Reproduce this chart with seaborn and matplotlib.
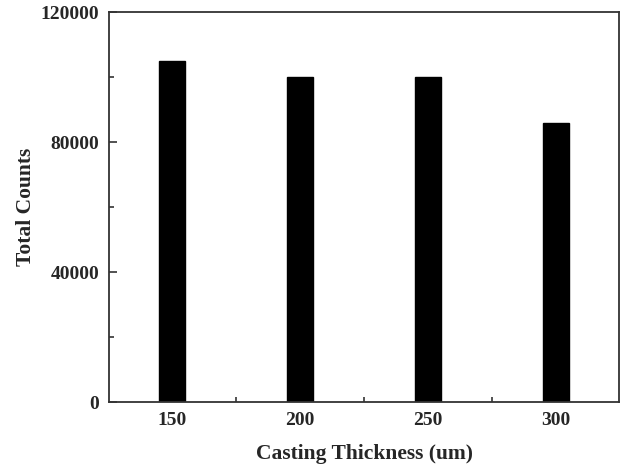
import seaborn as sns
import pandas as pd
import matplotlib.pyplot as plt
from matplotlib.ticker import MultipleLocator

# Values
thickness = ["150", "200", "250", "300"]
counts = [105000, 100000, 100000, 86000]

df = pd.DataFrame({"thickness": thickness, "counts": counts})

sns.set_style("ticks")
plt.rcParams["font.family"] = ["Liberation Serif", "DejaVu Serif"]
plt.rcParams["font.weight"] = "bold"

fig = plt.figure(figsize=(6.24, 4.68), dpi=100)
ax = fig.add_axes([0.1747, 0.141, 0.8173, 0.833])

sns.barplot(data=df, x="thickness", y="counts", color="black",
            edgecolor="black", width=0.2, saturation=1, ax=ax)

ax.set_xlim(-0.49, 3.49)
ax.set_ylim(0, 120000)
ax.yaxis.set_major_locator(MultipleLocator(40000))
ax.yaxis.set_minor_locator(MultipleLocator(20000))
ax.set_xticks([0.5, 1.5, 2.5], minor=True)

ax.tick_params(which="both", direction="in", color="#333333", width=1.2,
               labelsize=14, pad=7)
ax.tick_params(which="major", length=6)
ax.tick_params(which="minor", length=3.5)
for lbl in ax.get_xticklabels() + ax.get_yticklabels():
    lbl.set_fontweight("bold")

for s in ax.spines.values():
    s.set_visible(True)
    s.set_linewidth(1.3)
    s.set_color("#333333")

ax.set_xlabel("Casting Thickness (um)", fontsize=15.5, fontweight="bold", labelpad=11)
ax.set_ylabel("Total Counts", fontsize=15.5, fontweight="bold", labelpad=3)

plt.savefig("out.png", dpi=100)
